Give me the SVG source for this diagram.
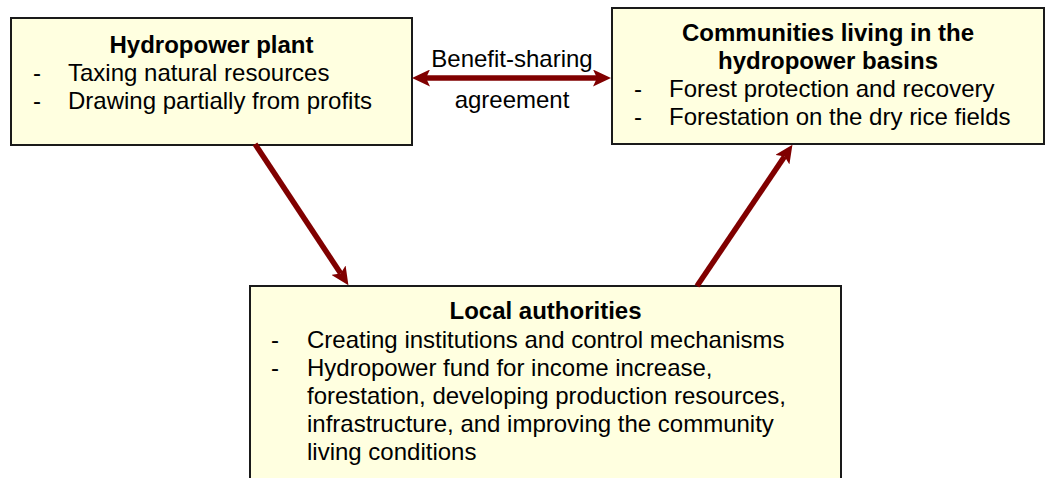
<svg xmlns="http://www.w3.org/2000/svg" width="1046" height="478" viewBox="0 0 1046 478">
<style>
.box{fill:#FFFFE0;stroke:#1a1a1a;stroke-width:2}
text{font-family:"Liberation Sans",Arial,sans-serif;font-size:24px;fill:#000}
.t{font-weight:bold;text-anchor:middle}
.c{text-anchor:middle}
.conn{stroke:#800000;stroke-width:5.5;fill:none}
</style>
<defs>
<marker id="ah" markerUnits="userSpaceOnUse" markerWidth="18" markerHeight="17" refX="4" refY="8.5" orient="auto-start-reverse" viewBox="0 0 18 17">
<path d="M0,0 L18,8.5 L0,17 L4,8.5 z" fill="#800000"/>
</marker>
</defs>
<rect width="1046" height="478" fill="#fff"/>
<g id="hydropower-plant">
<rect class="box" x="11" y="18" width="401" height="127"/>
<text class="t" x="211.5" y="53">Hydropower plant</text>
<text x="33" y="81">-</text><text x="68" y="81">Taxing natural resources</text>
<text x="33" y="109">-</text><text x="68" y="109">Drawing partially from profits</text>
</g>
<g id="communities">
<rect class="box" x="612" y="8" width="432" height="136"/>
<text class="t" x="828" y="41">Communities living in the</text>
<text class="t" x="828" y="69">hydropower basins</text>
<text x="634" y="97">-</text><text x="669" y="97">Forest protection and recovery</text>
<text x="634" y="125">-</text><text x="669" y="125">Forestation on the dry rice fields</text>
</g>
<g id="local-authorities">
<rect class="box" x="250" y="286" width="591" height="200"/>
<text class="t" x="545.5" y="319">Local authorities</text>
<text x="271" y="348">-</text><text x="307" y="348">Creating institutions and control mechanisms</text>
<text x="271" y="376">-</text><text x="307" y="376">Hydropower fund for income increase,</text>
<text x="307" y="404">forestation, developing production resources,</text>
<text x="307" y="432">infrastructure, and improving the community</text>
<text x="307" y="460">living conditions</text>
</g>
<g id="connectors">
<line class="conn" x1="426" y1="78" x2="597" y2="78" marker-start="url(#ah)" marker-end="url(#ah)"/>
<line class="conn" x1="255" y1="144" x2="340.7" y2="273.5" marker-end="url(#ah)"/>
<line class="conn" x1="697" y1="286" x2="784.6" y2="156.4" marker-end="url(#ah)"/>
<text class="c" x="512" y="67">Benefit-sharing</text>
<text class="c" x="512" y="108">agreement</text>
</g>
</svg>
